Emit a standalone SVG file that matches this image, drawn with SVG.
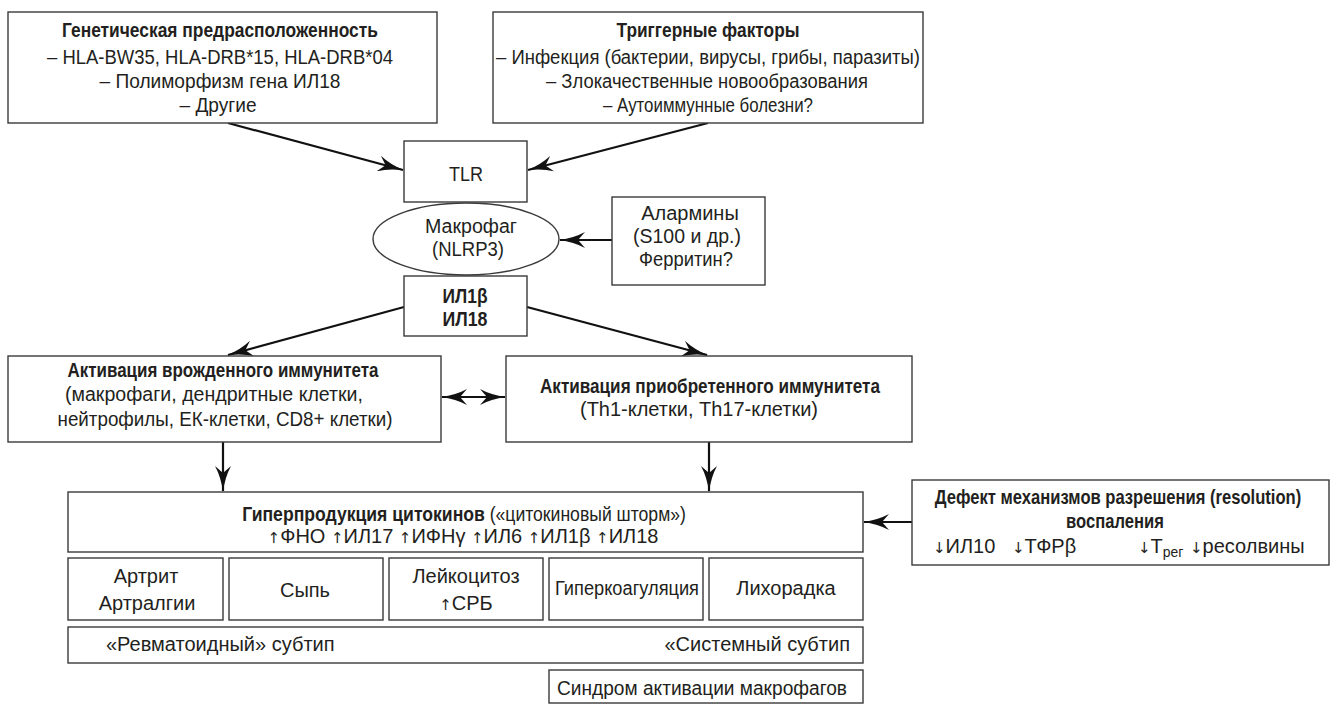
<svg xmlns="http://www.w3.org/2000/svg" width="1336" height="704" viewBox="0 0 1336 704">
<defs>
<marker id="ah" markerUnits="userSpaceOnUse" markerWidth="26" markerHeight="16" refX="25" refY="8" orient="auto-start-reverse" viewBox="0 0 26 16">
<path d="M0,0 Q11,6 26,8 Q11,10 0,16 L7,8 z" fill="#111"/>
</marker>
<style>
rect.b{fill:#fff;stroke:#3a3a3a;stroke-width:1.4}
ellipse.b{fill:#fff;stroke:#3a3a3a;stroke-width:1.4}
text{font-family:"Liberation Sans",Arial,sans-serif;font-size:20px;fill:#231f20}
text.c{text-anchor:middle}
.bd{font-weight:bold}
.ar{font-family:"DejaVu Sans",sans-serif;font-size:15px;font-weight:normal}
line.a{stroke:#111;stroke-width:2.2;marker-end:url(#ah)}
line.d{stroke:#111;stroke-width:2.2;marker-end:url(#ah);marker-start:url(#ah)}
</style>
</defs>
<rect width="1336" height="704" fill="#fff"/>

<g id="connectors">
<line class="a" x1="228" y1="123" x2="403" y2="170"/>
<line class="a" x1="708" y1="123" x2="528" y2="170"/>
<line class="a" x1="612" y1="240" x2="560" y2="240"/>
<line class="a" x1="404" y1="307" x2="228" y2="355"/>
<line class="a" x1="527" y1="307" x2="707" y2="355"/>
<line class="d" x1="442" y1="397" x2="505" y2="397"/>
<line class="a" x1="223" y1="442" x2="223" y2="491"/>
<line class="a" x1="709" y1="442" x2="709" y2="491"/>
<line class="a" x1="912" y1="522" x2="864" y2="522"/>
</g>

<g id="genetic">
<rect class="b" x="8" y="12" width="429" height="111"/>
<text class="c bd" x="220" y="37" textLength="316" lengthAdjust="spacingAndGlyphs">Генетическая предрасположенность</text>
<text class="c" x="220" y="64" textLength="346" lengthAdjust="spacingAndGlyphs">–  HLA-BW35, HLA-DRB*15, HLA-DRB*04</text>
<text class="c" x="220" y="88" textLength="241" lengthAdjust="spacingAndGlyphs">–  Полиморфизм гена ИЛ18</text>
<text class="c" x="218" y="112" textLength="77" lengthAdjust="spacingAndGlyphs">–  Другие</text>
</g>

<g id="triggers">
<rect class="b" x="493" y="12" width="430" height="111"/>
<text class="c bd" x="708" y="37" textLength="183" lengthAdjust="spacingAndGlyphs">Триггерные факторы</text>
<text class="c" x="708" y="64" textLength="424" lengthAdjust="spacingAndGlyphs">–  Инфекция (бактерии, вирусы, грибы, паразиты)</text>
<text class="c" x="707" y="88" textLength="322" lengthAdjust="spacingAndGlyphs">–  Злокачественные новообразования</text>
<text class="c" x="708" y="112" textLength="210" lengthAdjust="spacingAndGlyphs">–  Аутоиммунные болезни?</text>
</g>

<g id="tlr">
<rect class="b" x="404" y="141" width="123" height="61"/>
<text class="c" x="466" y="181" textLength="34" lengthAdjust="spacingAndGlyphs">TLR</text>
</g>

<g id="macrophage">
<ellipse class="b" cx="466" cy="239" rx="93" ry="36"/>
<text class="c" x="471" y="233" textLength="92" lengthAdjust="spacingAndGlyphs">Макрофаг</text>
<text class="c" x="468" y="256" textLength="72" lengthAdjust="spacingAndGlyphs">(NLRP3)</text>
</g>

<g id="alarmins">
<rect class="b" x="612" y="197" width="153" height="88"/>
<text class="c" x="690" y="220">Алармины</text>
<text class="c" x="687" y="243" textLength="108" lengthAdjust="spacingAndGlyphs">(S100 и др.)</text>
<text class="c" x="686" y="266" textLength="94" lengthAdjust="spacingAndGlyphs">Ферритин?</text>
</g>

<g id="il">
<rect class="b" x="404" y="276" width="123" height="60"/>
<text class="c bd" x="465" y="303" textLength="45" lengthAdjust="spacingAndGlyphs">ИЛ1β</text>
<text class="c bd" x="465" y="326" textLength="45" lengthAdjust="spacingAndGlyphs">ИЛ18</text>
</g>

<g id="innate">
<rect class="b" x="8" y="356" width="433" height="86"/>
<text class="c bd" x="223" y="377" textLength="311" lengthAdjust="spacingAndGlyphs">Активация врожденного иммунитета</text>
<text class="c" x="214" y="401" textLength="298" lengthAdjust="spacingAndGlyphs">(макрофаги, дендритные клетки,</text>
<text class="c" x="225" y="426" textLength="335" lengthAdjust="spacingAndGlyphs">нейтрофилы, ЕК-клетки, CD8+ клетки)</text>
</g>

<g id="adaptive">
<rect class="b" x="506" y="356" width="406" height="86"/>
<text class="c bd" x="710" y="393" textLength="340" lengthAdjust="spacingAndGlyphs">Активация приобретенного иммунитета</text>
<text class="c" x="699" y="416" textLength="238" lengthAdjust="spacingAndGlyphs">(Th1-клетки, Th17-клетки)</text>
</g>

<g id="cytokines">
<rect class="b" x="68" y="492" width="795" height="60"/>
<text class="c" transform="translate(464,521) scale(0.88,1)" x="0" y="0"><tspan class="bd">Гиперпродукция цитокинов</tspan> («цитокиновый шторм»)</text>
<text class="c" x="463" y="543"><tspan class="ar">↑</tspan>ФНО <tspan class="ar">↑</tspan>ИЛ17 <tspan class="ar">↑</tspan>ИФНγ <tspan class="ar">↑</tspan>ИЛ6 <tspan class="ar">↑</tspan>ИЛ1β <tspan class="ar">↑</tspan>ИЛ18</text>
</g>

<g id="defect">
<rect class="b" x="912" y="480" width="417" height="85"/>
<text class="c bd" transform="translate(1118,504) scale(0.83,1)" x="0" y="0">Дефект механизмов разрешения (resolution)</text>
<text class="c bd" transform="translate(1115,528) scale(0.83,1)" x="0" y="0">воспаления</text>
<text x="933" y="553"><tspan class="ar">↓</tspan>ИЛ10</text>
<text x="1012" y="553"><tspan class="ar">↓</tspan>ТФРβ</text>
<text x="1138" y="553"><tspan class="ar">↓</tspan>T<tspan font-size="14" dy="4">рег</tspan></text>
<text x="1190" y="553"><tspan class="ar">↓</tspan>ресолвины</text>
</g>

<g id="arthritis">
<rect class="b" x="68" y="558" width="155" height="62"/>
<text class="c" x="146" y="583">Артрит</text>
<text class="c" x="147" y="610">Артралгии</text>
</g>
<g id="rash">
<rect class="b" x="229" y="558" width="154" height="62"/>
<text class="c" x="305" y="597">Сыпь</text>
</g>
<g id="leukocytosis">
<rect class="b" x="389" y="558" width="154" height="62"/>
<text class="c" x="466" y="583">Лейкоцитоз</text>
<text class="c" x="466" y="610"><tspan class="ar">↑</tspan>СРБ</text>
</g>
<g id="hypercoag">
<rect class="b" x="549" y="558" width="154" height="62"/>
<text class="c" x="627" y="595" textLength="144" lengthAdjust="spacingAndGlyphs">Гиперкоагуляция</text>
</g>
<g id="fever">
<rect class="b" x="709" y="558" width="154" height="62"/>
<text class="c" x="786" y="595">Лихорадка</text>
</g>

<g id="subtypes">
<rect class="b" x="68" y="627" width="795" height="36"/>
<text x="106" y="651">«Ревматоидный» субтип</text>
<text x="850" y="651" text-anchor="end">«Системный субтип</text>
</g>

<g id="mas">
<rect class="b" x="549" y="670" width="314" height="33"/>
<text class="c" x="702" y="695" textLength="290" lengthAdjust="spacingAndGlyphs">Синдром активации макрофагов</text>
</g>
</svg>
